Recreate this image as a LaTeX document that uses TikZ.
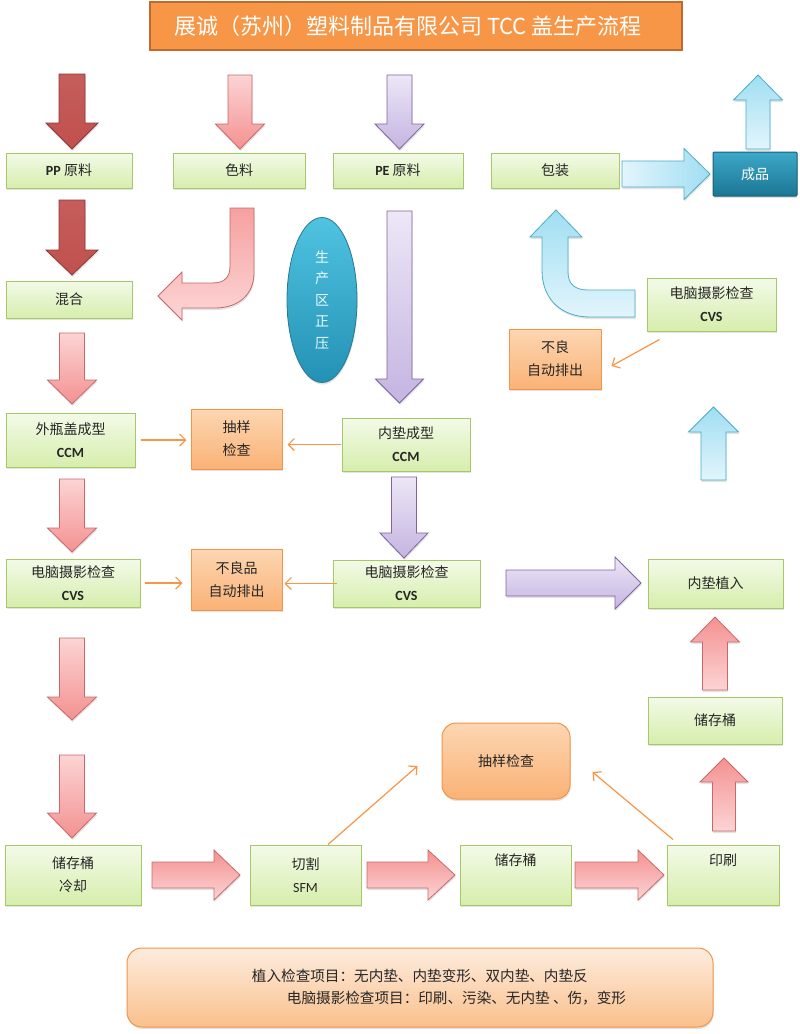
\documentclass[tikz,border=0pt]{standalone}
\usepackage{fontspec}
\setmainfont{Noto Sans CJK SC}
\newfontfamily\lat{Carlito}
\usetikzlibrary{shadows,shapes.geometric,arrows.meta,calc}

\definecolor{gtop}{RGB}{243,250,232}
\definecolor{gbot}{RGB}{214,238,172}
\definecolor{gbrd}{RGB}{166,200,104}
\definecolor{otop}{RGB}{253,214,178}
\definecolor{obot}{RGB}{250,178,118}
\definecolor{obrd}{RGB}{240,150,75}
\definecolor{oline}{RGB}{247,150,70}
\definecolor{titlef}{RGB}{247,150,70}
\definecolor{titleb}{RGB}{190,105,45}
\definecolor{drf}{RGB}{192,80,77}
\definecolor{drb}{RGB}{140,55,52}
\definecolor{pktop}{RGB}{246,160,160}
\definecolor{pkbot}{RGB}{253,214,214}
\definecolor{pksat}{RGB}{244,145,145}
\definecolor{pklig}{RGB}{252,212,212}
\definecolor{pkbrd}{RGB}{200,105,105}
\definecolor{putop}{RGB}{237,231,246}
\definecolor{pubot}{RGB}{196,180,225}
\definecolor{pubrd}{RGB}{128,100,162}
\definecolor{bltop}{RGB}{160,222,242}
\definecolor{blbot}{RGB}{226,245,252}
\definecolor{blbrd}{RGB}{75,172,198}
\definecolor{tltop}{RGB}{60,168,200}
\definecolor{tlbot}{RGB}{28,118,148}
\definecolor{tlbrd}{RGB}{25,95,120}
\definecolor{ntop}{RGB}{253,236,222}
\definecolor{nbot}{RGB}{250,192,140}
\definecolor{ovtop}{RGB}{80,195,225}
\definecolor{ovbot}{RGB}{35,145,180}
\definecolor{ovbrd}{RGB}{40,120,150}

\newcommand{\VArr}[7]{\path[#1] ({#2-#6},#3) -- ({#2+#6},#3) -- ({#2+#6},#4) -- ({#2+#7},#4) -- (#2,#5) -- ({#2-#7},#4) -- ({#2-#6},#4) -- cycle;}
\newcommand{\HArr}[7]{\path[#1] (#3,{#2-#6}) -- (#3,{#2+#6}) -- (#4,{#2+#6}) -- (#4,{#2+#7}) -- (#5,#2) -- (#4,{#2-#7}) -- (#4,{#2-#6}) -- cycle;}

\tikzset{
  shad/.style={drop shadow={opacity=0.22, shadow xshift=0.6pt, shadow yshift=-2pt}},
  gbox/.style={draw=gbrd, line width=1pt, top color=gtop, bottom color=gbot, shad,
    align=center, font=\fontsize{14}{23}\selectfont, text=black!85, inner sep=0pt},
  obox/.style={gbox, draw=obrd, top color=otop, bottom color=obot},
  tbox/.style={gbox, draw=tlbrd, top color=tltop, bottom color=tlbot, text=white, rounded corners=1pt},
  oarr/.style={draw=oline, line width=1.2pt, -{Straight Barb[length=6pt,width=12pt]}},
  dred/.style={draw=drb, line width=0.8pt, top color=drf!92!white, bottom color=drf, shad},
  pink/.style={draw=pkbrd, line width=0.8pt, top color=pktop, bottom color=pkbot, shad},
  pinkd/.style={draw=pkbrd, line width=0.8pt, top color=pklig, bottom color=pksat, shad},
  pinku/.style={draw=pkbrd, line width=0.8pt, top color=pksat, bottom color=pklig, shad},
  purp/.style={draw=pubrd, line width=0.8pt, top color=putop, bottom color=pubot, shad},
  blue/.style={draw=blbrd, line width=0.8pt, top color=bltop, bottom color=blbot, shad},
  blueh/.style={draw=blbrd, line width=0.8pt, left color=blbot, right color=bltop, shad},
}

\begin{document}
\begin{tikzpicture}[x=1pt,y=-1pt]
\useasboundingbox (0,0) rectangle (800,1034);
\fill[white] (0,0) rectangle (800,1034);

% title
\node[draw=titleb, line width=1.8pt, fill=titlef, minimum width=532pt, minimum height=48pt,
  text=white, font=\fontsize{22}{26}\selectfont, inner sep=0pt] (title) at (416,26)
  {展诚（苏州）塑料制品有限公司 TCC 盖生产流程\kern16pt};

% boxes
\node[gbox, minimum width=126pt, minimum height=35pt] (pp) at (69,170.5) {{\lat\bfseries PP} 原料};
\node[gbox, minimum width=132pt, minimum height=35pt] (sl) at (239,170.5) {色料};
\node[gbox, minimum width=130pt, minimum height=35pt] (pe) at (398,170.5) {{\lat\bfseries PE} 原料};
\node[gbox, minimum width=128pt, minimum height=35pt] (bz) at (555,170.5) {包装};
\node[tbox, minimum width=84pt, minimum height=44pt] (cp) at (755,174) {成品};
\node[gbox, minimum width=126pt, minimum height=37pt] (hh) at (69,299.5) {混合};
\node[gbox, minimum width=129pt, minimum height=54pt] (wp) at (70.5,440) {外瓶盖成型\\{\lat\bfseries CCM}};
\node[obox, minimum width=91pt, minimum height=60pt] (cy1) at (236.5,439) {抽样\\检查};
\node[gbox, minimum width=128pt, minimum height=53pt] (nd) at (406,444.5) {内垫成型\\{\lat\bfseries CCM}};
\node[gbox, minimum width=134pt, minimum height=48pt] (cvs1) at (73,583) {电脑摄影检查\\{\lat\bfseries CVS}};
\node[obox, minimum width=91pt, minimum height=61pt] (bl1) at (236.5,579.5) {不良品\\自动排出};
\node[gbox, minimum width=147pt, minimum height=47pt] (cvs2) at (406.5,583.5) {电脑摄影检查\\{\lat\bfseries CVS}};
\node[gbox, minimum width=135pt, minimum height=49pt] (nz) at (715.5,583.5) {内垫植入};
\node[gbox, minimum width=134pt, minimum height=47pt] (cc2) at (715,720.5) {储存桶};
\node[gbox, minimum width=129pt, minimum height=53pt] (cvs3) at (711.5,304.5) {电脑摄影检查\\{\lat\bfseries CVS}};
\node[obox, minimum width=92pt, minimum height=60pt] (bl2) at (555,359) {不良\\自动排出};
\node[obox, rounded corners=14pt, minimum width=128pt, minimum height=76pt] (cy2) at (506,761) {抽样检查};
\node[gbox, minimum width=136pt, minimum height=60pt] (lq) at (73,875) {储存桶\\冷却};
\node[gbox, minimum width=111pt, minimum height=60pt] (qg) at (305.5,875) {切割\\{\lat SFM}};
\node[gbox, minimum width=111pt, minimum height=60pt] (cc1) at (515.5,875) {储存桶\\\strut};
\node[gbox, minimum width=112pt, minimum height=60pt] (ys) at (723,875) {印刷\\\strut};

% oval
\node[ellipse, draw=ovbrd, line width=0.8pt, top color=ovtop, bottom color=ovbot, shad,
  minimum width=70pt, minimum height=165pt, inner sep=0pt, align=center,
  text=white!92!cyan, font=\fontsize{14}{21.5}\selectfont] (zy) at (322,300) {生\\产\\区\\正\\压};

% bottom note
\node[draw=obrd, line width=1pt, rounded corners=15pt, top color=ntop, bottom color=nbot, shad,
  minimum width=586pt, minimum height=79pt] (note) at (420,987.5) {};
\node[align=left, font=\fontsize{14.6}{22}\selectfont, text=black!85, inner sep=0pt] (notetxt) at (439,987.5)
  {植入检查项目：无内垫、内垫变形、双内垫、内垫反\\\hspace*{35pt}电脑摄影检查项目：印刷、污染、无内垫 、伤，变形};

% block arrows
\VArr{dred}{72}{74}{123}{149}{13}{26}
\VArr{dred}{72}{200}{250}{275}{13}{26}
\VArr{pinkd}{240}{75}{124}{149}{12}{24.5}
\VArr{pinkd}{72}{333}{380}{404}{12.5}{24.5}
\VArr{pinkd}{72}{479}{528}{552}{12.5}{24.5}
\VArr{pinkd}{72}{638}{697}{720}{12.5}{24.5}
\VArr{pinkd}{72}{755}{813}{838}{12.5}{24.5}
\HArr{pinku}{875}{152}{214}{240}{13}{25}
\HArr{pinku}{875}{367}{428}{455}{13}{25}
\HArr{pinku}{875}{575}{638}{664}{13}{25}
\VArr{pinku}{724}{831}{782}{758}{11.5}{24}
\VArr{pinku}{715}{690}{642}{617}{12.5}{24.5}
\VArr{purp}{399.5}{75}{124}{149}{12.5}{24.5}
\VArr{purp}{399.5}{211}{379}{403}{12.5}{24}
\VArr{purp}{404}{477}{533}{558}{12.5}{24}
\HArr{purp}{583}{506}{615}{641}{13}{26}
\VArr{blue}{758}{149}{100}{75}{12}{24.5}
\VArr{blue}{713.5}{480}{432}{407}{12.5}{25}
\HArr{blueh}{174}{622}{684}{710}{13}{25.5}

% bent pink arrow
\path[pink] (230,208) -- (254,208) -- (254,273) .. controls (254,293) and (240,308) .. (215,308)
  -- (182,308) -- (182,320) -- (158,296) -- (182,272) -- (182,283) -- (212,283)
  .. controls (224,283) and (230,278) .. (230,266) -- cycle;
% bent blue arrow
\path[blue] (635,290) -- (635,317) -- (590,317) .. controls (562,317) and (542,300) .. (542,270)
  -- (542,237) -- (530,237) -- (556,210) -- (582,237) -- (568,237) -- (568,272)
  .. controls (568,284) and (575,290) .. (588,290) -- cycle;

% thin orange connectors
\draw[oarr, shorten <=5pt, shorten >=4pt] (wp.east) -- (wp.east -| cy1.west);
\draw[oarr, shorten <=1pt, shorten >=5pt] (nd.west) -- (nd.west -| cy1.east);
\draw[oarr, shorten <=4pt, shorten >=8pt] (cvs1.east) -- (cvs1.east -| bl1.west);
\draw[oarr, shorten <=-4pt, shorten >=2pt] (cvs2.west) -- (cvs2.west -| bl1.east);
\draw[oarr] ($(cvs3.south west)+(13,8)$) -- ($(bl2.east)+(10,7)$);
\draw[oarr] ($(qg.north)+(22.5,0)$) -- ($(cy2.west)+(-24,5)$);
\draw[oarr] ($(ys.north)+(-50,-5)$) -- ($(cy2.east)+(22,11)$);
\end{tikzpicture}
\end{document}
